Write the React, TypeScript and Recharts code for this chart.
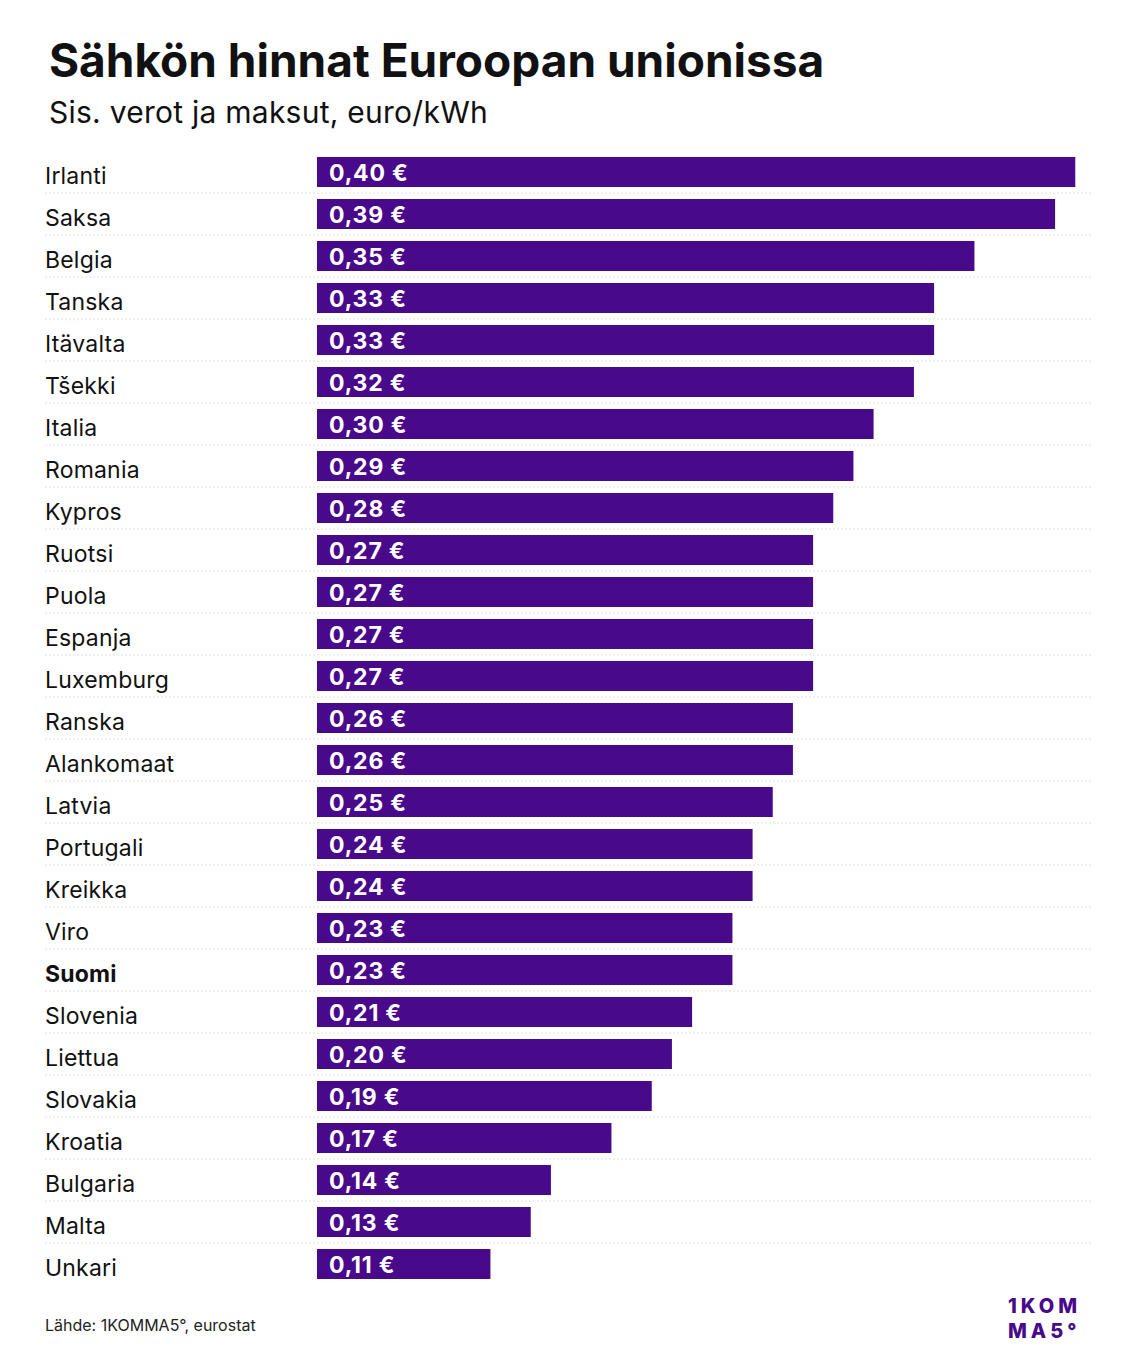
import React from 'react';
import { BarChart, Bar, XAxis, YAxis, LabelList } from 'recharts';

// Electricity prices incl. taxes and levies, euro/kWh
const countries = [
  'Irlanti', 'Saksa', 'Belgia', 'Tanska', 'Itävalta', 'Tšekki', 'Italia', 'Romania', 'Kypros',
  'Ruotsi', 'Puola', 'Espanja', 'Luxemburg', 'Ranska', 'Alankomaat', 'Latvia', 'Portugali',
  'Kreikka', 'Viro', 'Suomi', 'Slovenia', 'Liettua', 'Slovakia', 'Kroatia', 'Bulgaria', 'Malta', 'Unkari',
];
const prices = [
  0.40, 0.39, 0.35, 0.33, 0.33, 0.32, 0.30, 0.29, 0.28,
  0.27, 0.27, 0.27, 0.27, 0.26, 0.26, 0.25, 0.24,
  0.24, 0.23, 0.23, 0.21, 0.20, 0.19, 0.17, 0.14, 0.13, 0.11,
];
const highlightCountry = 'Suomi';
const priceDomain: [number, number] = [0.024, 0.4083];

const TITLE = 'Sähkön hinnat Euroopan unionissa';
const SUBTITLE = 'Sis. verot ja maksut, euro/kWh';
const SOURCE = 'Lähde: 1KOMMA5°, eurostat';
const LOGO_LINES = ['1KOM', 'MA5°'];

const PURPLE = '#48098a';
const FONT = 'Inter, "Noto Sans", sans-serif';
const W = 1148;
const H = 1370;
const TOP = 151;
const BOTTOM = 85;
const LABEL_X = 45;
const GRID_RIGHT = 1092;

const data = countries.map((name, i) => ({ name, price: prices[i] }));

const formatPrice = (v: number) => `${v.toFixed(2).replace('.', ',')} €`;

const CountryTick = (props: any) => {
  const { y, payload, index } = props;
  const rowHeight = (H - TOP - BOTTOM) / countries.length;
  const bold = payload.value === highlightCountry;
  return (
    <g>
      {index > 0 && (
        <line
          x1={LABEL_X}
          x2={GRID_RIGHT}
          y1={y - rowHeight / 2}
          y2={y - rowHeight / 2}
          stroke="#e0e0e0"
          strokeWidth={1}
          strokeDasharray="2 2"
        />
      )}
      <text
        x={LABEL_X}
        y={y + 11.5}
        textAnchor="start"
        fontFamily={FONT}
        fontSize={23}
        letterSpacing={0.2}
        fontWeight={bold ? 700 : 400}
        fill="#111"
      >
        {payload.value}
      </text>
    </g>
  );
};

const PriceLabel = (props: any) => {
  const { x, y, height, value } = props;
  return (
    <text
      x={x + 12}
      y={y + height / 2 + 8.5}
      textAnchor="start"
      fontFamily={FONT}
      fontSize={23}
      letterSpacing={0.8}
      fontWeight={700}
      fill="#fff"
    >
      {formatPrice(value)}
    </text>
  );
};

export default function App() {
  return (
    <div style={{ position: 'absolute', left: 0, top: 0, width: W, height: H, background: '#fff' }}>
      <svg width={W} height={H} style={{ position: 'absolute', left: 0, top: 0 }}>
        <text x={49} y={77} fontFamily={FONT} fontSize={46} fontWeight={700} fill="#111">
          {TITLE}
        </text>
        <text x={49} y={123} fontFamily={FONT} fontSize={30} letterSpacing={0.25} fontWeight={400} fill="#111">
          {SUBTITLE}
        </text>
        <text x={LABEL_X} y={1331} fontFamily={FONT} fontSize={16} fontWeight={400} fill="#222">
          {SOURCE}
        </text>
        {LOGO_LINES.map((line, i) => (
          <text
            key={line}
            x={1008}
            y={1313 + i * 25}
            fontFamily={FONT}
            fontSize={20}
            fontWeight={800}
            letterSpacing={4}
            fill={PURPLE}
          >
            {line}
          </text>
        ))}
      </svg>
      <div style={{ position: 'absolute', left: 0, top: 0 }}>
        <BarChart
          width={W}
          height={H}
          data={data}
          layout="vertical"
          margin={{ top: TOP, right: W - GRID_RIGHT, bottom: BOTTOM, left: 0 }}
          barCategoryGap={12}
        >
          <XAxis type="number" dataKey="price" domain={priceDomain} allowDataOverflow hide />
          <YAxis
            type="category"
            dataKey="name"
            width={317}
            axisLine={false}
            tickLine={false}
            interval={0}
            tick={<CountryTick />}
          />
          <Bar dataKey="price" fill={PURPLE} barSize={30} isAnimationActive={false}>
            <LabelList dataKey="price" content={<PriceLabel />} />
          </Bar>
        </BarChart>
      </div>
    </div>
  );
}
